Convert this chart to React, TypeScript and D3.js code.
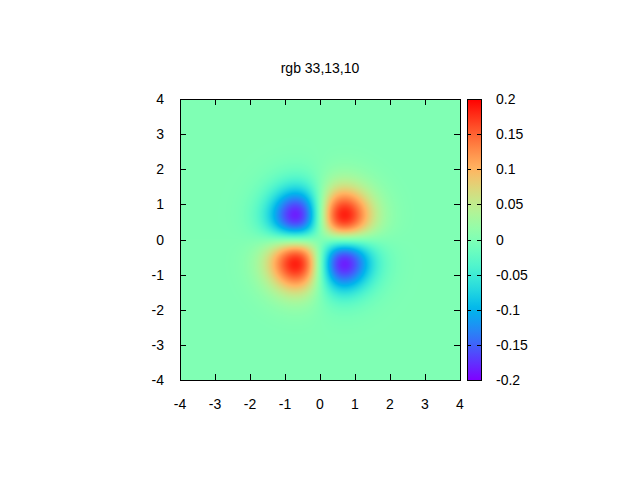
import { useEffect, useRef } from "react";
import * as d3 from "d3";

// plotted expression (gnuplot: splot x*y*exp(-x*x-y*y))
const surface = (x: number, y: number) => x * y * Math.exp(-x * x - y * y);

const xDomain = [-4, 4];
const yDomain = [-4, 4];
const cbDomain = [-0.2, 0.2];
const xTicks = [-4, -3, -2, -1, 0, 1, 2, 3, 4];
const yTicks = [-4, -3, -2, -1, 0, 1, 2, 3, 4];
const cbTicks = [-0.2, -0.15, -0.1, -0.05, 0, 0.05, 0.1, 0.15, 0.2];
const title = "rgb 33,13,10";

// gnuplot rgbformulae 33,13,10
function rgbFormula(g: number) {
  const r = Math.min(1, Math.abs(2 * g - 0.5));
  const gg = Math.max(0, Math.sin(Math.PI * g));
  const b = Math.max(0, Math.cos((Math.PI / 2) * g));
  return [Math.round(r * 255), Math.round(gg * 255), Math.round(b * 255)];
}

const W = 640;
const H = 480;
const left = 180;
const right = 460;
const top = 99;
const bottom = 380;
const cbLeft = 467;
const cbRight = 481;
const font = "Liberation Sans, Arial, sans-serif";

export default function App() {
  const svgRef = useRef<SVGSVGElement>(null);

  useEffect(() => {
    if (!svgRef.current) return;
    const svg = d3.select(svgRef.current);
    svg.selectAll("*").remove();

    const x = d3.scaleLinear().domain(xDomain).range([left, right]);
    const y = d3.scaleLinear().domain(yDomain).range([bottom, top]);
    const cb = d3.scaleLinear().domain(cbDomain).range([bottom, top]);
    const gray = d3.scaleLinear().domain(cbDomain).range([0, 1]).clamp(true);

    // heat map rendered to a canvas image
    const pw = right - left;
    const ph = bottom - top;
    const canvas = document.createElement("canvas");
    canvas.width = pw;
    canvas.height = ph;
    const ctx = canvas.getContext("2d")!;
    const img = ctx.createImageData(pw, ph);
    for (let j = 0; j < ph; j++) {
      const yv = y.invert(top + j + 0.5);
      for (let i = 0; i < pw; i++) {
        const xv = x.invert(left + i + 0.5);
        const [r, g, b] = rgbFormula(gray(surface(xv, yv)));
        const k = (j * pw + i) * 4;
        img.data[k] = r;
        img.data[k + 1] = g;
        img.data[k + 2] = b;
        img.data[k + 3] = 255;
      }
    }
    ctx.putImageData(img, 0, 0);
    svg
      .append("image")
      .attr("x", left)
      .attr("y", top)
      .attr("width", pw)
      .attr("height", ph)
      .attr("preserveAspectRatio", "none")
      .attr("href", canvas.toDataURL());

    // colour box gradient
    const grad = svg
      .append("defs")
      .append("linearGradient")
      .attr("id", "cbgrad")
      .attr("x1", 0)
      .attr("y1", 1)
      .attr("x2", 0)
      .attr("y2", 0);
    d3.range(0, 1.0001, 0.02).forEach((t) => {
      const [r, g, b] = rgbFormula(t);
      grad
        .append("stop")
        .attr("offset", t)
        .attr("stop-color", `rgb(${r},${g},${b})`);
    });
    svg
      .append("rect")
      .attr("x", cbLeft)
      .attr("y", top)
      .attr("width", cbRight - cbLeft)
      .attr("height", bottom - top)
      .attr("fill", "url(#cbgrad)");

    const tickLen = 6;
    const axes = svg.append("g").attr("stroke", "black").attr("stroke-width", 1);

    // x ticks (bottom + mirrored top)
    xTicks.forEach((t) => {
      const px = Math.round(x(t)) + 0.5;
      axes.append("line").attr("x1", px).attr("x2", px).attr("y1", bottom).attr("y2", bottom - tickLen);
      axes.append("line").attr("x1", px).attr("x2", px).attr("y1", top).attr("y2", top + tickLen);
    });
    // y ticks (left + mirrored right)
    yTicks.forEach((t) => {
      const py = Math.round(y(t)) + 0.5;
      axes.append("line").attr("x1", left).attr("x2", left + tickLen).attr("y1", py).attr("y2", py);
      axes.append("line").attr("x1", right).attr("x2", right - tickLen).attr("y1", py).attr("y2", py);
    });
    // colorbar ticks
    cbTicks.forEach((t) => {
      const py = Math.round(cb(t)) + 0.5;
      axes.append("line").attr("x1", cbLeft).attr("x2", cbLeft + 4).attr("y1", py).attr("y2", py);
      axes.append("line").attr("x1", cbRight).attr("x2", cbRight - 4).attr("y1", py).attr("y2", py);
    });

    axes
      .append("rect")
      .attr("x", left + 0.5)
      .attr("y", top + 0.5)
      .attr("width", right - left)
      .attr("height", bottom - top)
      .attr("fill", "none");
    axes
      .append("rect")
      .attr("x", cbLeft + 0.5)
      .attr("y", top + 0.5)
      .attr("width", cbRight - cbLeft)
      .attr("height", bottom - top)
      .attr("fill", "none");

    const labels = svg.append("g").attr("font-family", font).attr("font-size", 14).attr("fill", "black");

    xTicks.forEach((t) => {
      labels
        .append("text")
        .attr("x", x(t))
        .attr("y", bottom + 29)
        .attr("text-anchor", "middle")
        .text(String(t));
    });
    yTicks.forEach((t) => {
      labels
        .append("text")
        .attr("x", left - 16)
        .attr("y", y(t) + 5)
        .attr("text-anchor", "end")
        .text(String(t));
    });
    cbTicks.forEach((t) => {
      labels
        .append("text")
        .attr("x", cbRight + 15)
        .attr("y", cb(t) + 5)
        .attr("text-anchor", "start")
        .text(String(t));
    });

    labels
      .append("text")
      .attr("x", 320)
      .attr("y", 73)
      .attr("text-anchor", "middle")
      .text(title);
  }, []);

  return (
    <svg
      ref={svgRef}
      width={W}
      height={H}
      viewBox={`0 0 ${W} ${H}`}
      style={{ position: "absolute", left: 0, top: 0, background: "white" }}
    ></svg>
  );
}
